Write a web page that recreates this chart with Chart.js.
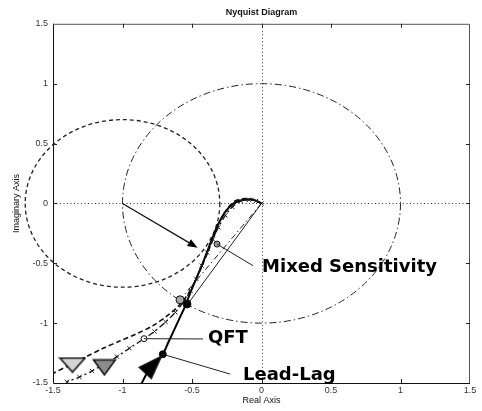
<!DOCTYPE html>
<html>
<head>
<meta charset="utf-8">
<title>Nyquist Diagram</title>
<script src="https://cdn.jsdelivr.net/npm/chart.js@4/dist/chart.umd.min.js"></script>
<style>
  html, body { margin: 0; padding: 0; background: #fff; }
  #wrap { width: 482px; height: 411px; }
</style>
</head>
<body>
<div id="wrap"><canvas id="nyq" width="482" height="411"></canvas></div>
<script>
// Axis ticks (both axes share the same range)
const tickValues = [-1.5, -1, -0.5, 0, 0.5, 1, 1.5];
const tickLabels = ['-1.5', '-1', '-0.5', '0', '0.5', '1', '1.5'];

// Mixed Sensitivity loop (real / imaginary parts)
const mixedRe = [0.0, -0.05, -0.12, -0.19, -0.25, -0.30, -0.34, -0.38, -0.42, -0.47, -0.53, -0.60, -0.68, -0.78, -0.90, -1.02, -1.14, -1.26, -1.38, -1.50];
const mixedIm = [0.0, 0.03, 0.04, 0.02, -0.05, -0.15, -0.27, -0.39, -0.50, -0.63, -0.76, -0.86, -0.94, -1.02, -1.09, -1.15, -1.21, -1.28, -1.35, -1.42];

// QFT loop
const qftRe = [0.0, -0.04, -0.09, -0.15, -0.21, -0.26, -0.31, -0.35, -0.39, -0.43, -0.47, -0.51, -0.56, -0.62, -0.69, -0.77, -0.845, -0.95, -1.04, -1.13, -1.22, -1.31, -1.40];
const qftIm = [0.0, 0.02, 0.03, 0.02, -0.03, -0.10, -0.20, -0.30, -0.41, -0.52, -0.63, -0.73, -0.82, -0.91, -0.99, -1.07, -1.13, -1.21, -1.28, -1.34, -1.40, -1.45, -1.49];
const qftReturnRe = [0.0, -0.59];
const qftReturnIm = [0.0, -0.81];

// Lead-Lag loop
const leadRe = [0.0, -0.06, -0.13, -0.20, -0.26, -0.31, -0.35, -0.39, -0.43, -0.47, -0.51, -0.55, -0.59, -0.63, -0.67, -0.71, -0.76, -0.81, -0.87];
const leadIm = [0.0, 0.03, 0.03, 0.0, -0.07, -0.17, -0.28, -0.40, -0.52, -0.63, -0.74, -0.86, -0.96, -1.06, -1.16, -1.26, -1.33, -1.39, -1.52];
const leadReturnRe = [0.0, -0.53];
const leadReturnIm = [0.0, -0.84];

// Direction triangles: Mixed Sensitivity, QFT, Lead-Lag
const triRe = [-1.36, -1.13, -0.80];
const triIm = [-1.35, -1.37, -1.37];

// Highlighted frequency points
const dotRe = [-0.32, -0.586, -0.536, -0.845, -0.71];
const dotIm = [-0.34, -0.805, -0.84, -1.13, -1.26];

// Reference circles: centre and radius
const circleRe = [-1, 0];
const circleIm = [0, 0];
const circleR = [0.7, 1];

// Arrow from the critical point
const arrowRe = [-1, -0.46];
const arrowIm = [0, -0.37];

// Callout labels, their anchor and the point each one refers to
const calloutText = ['Mixed Sensitivity', 'QFT', 'Lead-Lag'];
const calloutRe = [0.004, -0.385, -0.133];
const calloutIm = [-0.535, -1.13, -1.44];
const leaderEndRe = [-0.061, -0.421, -0.227];
const leaderEndIm = [-0.52, -1.132, -1.425];
const leaderFromRe = [-0.32, -0.845, -0.71];
const leaderFromIm = [-0.34, -1.13, -1.26];

const pts = (re, im) => re.map((x, i) => ({ x, y: im[i] }));

// Triangle glyphs used as point styles
function triangleGlyph(w, h, verts, fill) {
  const c = document.createElement('canvas');
  c.width = w; c.height = h;
  const g = c.getContext('2d');
  g.beginPath();
  g.moveTo(verts[0][0], verts[0][1]);
  g.lineTo(verts[1][0], verts[1][1]);
  g.lineTo(verts[2][0], verts[2][1]);
  g.closePath();
  g.fillStyle = fill;
  g.fill();
  g.lineWidth = 1.5;
  g.strokeStyle = '#111';
  g.stroke();
  return c;
}
const triGlyphs = [
  triangleGlyph(28, 17, [[1.5, 1.5], [26.5, 1.5], [14, 15.5]], '#d4d4d4'),
  triangleGlyph(25, 18, [[1.5, 1.5], [23.5, 1.5], [12.5, 16.5]], '#8c8c8c'),
  triangleGlyph(25, 25, [[23.5, 1.5], [1.5, 12.5], [13.5, 23.5]], '#000')
];

const AXIS_FONT = { family: "'Liberation Sans', Arial, sans-serif", size: 9 };

const backdrop = {
  id: 'backdrop',
  beforeDatasetsDraw(chart) {
    const { ctx, chartArea: a, scales: { x, y } } = chart;
    ctx.save();
    // dotted zero lines
    ctx.strokeStyle = '#333';
    ctx.lineWidth = 1;
    ctx.setLineDash([1, 2.5]);
    const x0 = Math.round(x.getPixelForValue(0)) + 0.5;
    const y0 = Math.round(y.getPixelForValue(0)) + 0.5;
    ctx.beginPath();
    ctx.moveTo(x0, a.top); ctx.lineTo(x0, a.bottom);
    ctx.moveTo(a.left, y0); ctx.lineTo(a.right, y0);
    ctx.stroke();
    // reference circles
    const dashes = [[4, 3], [7, 3, 1.5, 3]];
    const widths = [1.3, 1];
    circleRe.forEach((cx, i) => {
      const px = x.getPixelForValue(cx);
      const py = y.getPixelForValue(circleIm[i]);
      const rx = Math.abs(x.getPixelForValue(cx + circleR[i]) - px);
      const ry = Math.abs(y.getPixelForValue(circleIm[i] + circleR[i]) - py);
      ctx.setLineDash(dashes[i]);
      ctx.lineWidth = widths[i];
      ctx.strokeStyle = '#222';
      ctx.beginPath();
      ctx.ellipse(px, py, rx, ry, 0, 0, Math.PI * 2);
      ctx.stroke();
    });
    ctx.restore();
  },
  afterDatasetsDraw(chart) {
    const { ctx, chartArea: a, scales: { x, y } } = chart;
    ctx.save();
    // frame
    ctx.setLineDash([]);
    ctx.lineWidth = 1;
    ctx.strokeStyle = '#111';
    ctx.beginPath();
    ctx.moveTo(a.left + 0.5, a.top); ctx.lineTo(a.left + 0.5, a.bottom + 0.5);
    ctx.lineTo(a.right, a.bottom + 0.5);
    ctx.stroke();
    ctx.strokeStyle = '#555';
    ctx.beginPath();
    ctx.moveTo(a.left, a.top + 0.5); ctx.lineTo(a.right - 0.5, a.top + 0.5);
    ctx.lineTo(a.right - 0.5, a.bottom);
    ctx.stroke();
    // inward tick marks
    ctx.strokeStyle = '#222';
    ctx.beginPath();
    tickValues.slice(1, -1).forEach(v => {
      const px = Math.round(x.getPixelForValue(v)) + 0.5;
      ctx.moveTo(px, a.bottom); ctx.lineTo(px, a.bottom - 4);
      ctx.moveTo(px, a.top); ctx.lineTo(px, a.top + 4);
      const py = Math.round(y.getPixelForValue(v)) + 0.5;
      ctx.moveTo(a.left, py); ctx.lineTo(a.left + 4, py);
      ctx.moveTo(a.right, py); ctx.lineTo(a.right - 4, py);
    });
    ctx.stroke();
    // arrow from the critical point
    const ax1 = x.getPixelForValue(arrowRe[0]), ay1 = y.getPixelForValue(arrowIm[0]);
    const ax2 = x.getPixelForValue(arrowRe[1]), ay2 = y.getPixelForValue(arrowIm[1]);
    const ang = Math.atan2(ay2 - ay1, ax2 - ax1);
    const hl = 10, hw = 4;
    ctx.strokeStyle = '#111';
    ctx.lineWidth = 1.2;
    ctx.beginPath();
    ctx.moveTo(ax1, ay1);
    ctx.lineTo(ax2 - hl * Math.cos(ang), ay2 - hl * Math.sin(ang));
    ctx.stroke();
    ctx.fillStyle = '#000';
    ctx.beginPath();
    ctx.moveTo(ax2, ay2);
    ctx.lineTo(ax2 - hl * Math.cos(ang) + hw * Math.sin(ang), ay2 - hl * Math.sin(ang) - hw * Math.cos(ang));
    ctx.lineTo(ax2 - hl * Math.cos(ang) - hw * Math.sin(ang), ay2 - hl * Math.sin(ang) + hw * Math.cos(ang));
    ctx.closePath();
    ctx.fill();
    // callout leaders and labels
    ctx.lineWidth = 1;
    ctx.strokeStyle = '#222';
    ctx.beginPath();
    leaderFromRe.forEach((fx, i) => {
      ctx.moveTo(x.getPixelForValue(fx), y.getPixelForValue(leaderFromIm[i]));
      ctx.lineTo(x.getPixelForValue(leaderEndRe[i]), y.getPixelForValue(leaderEndIm[i]));
    });
    ctx.stroke();
    ctx.fillStyle = '#000';
    ctx.font = "bold 18px 'DejaVu Sans', Verdana, sans-serif";
    ctx.textAlign = 'left';
    ctx.textBaseline = 'middle';
    calloutText.forEach((t, i) => {
      ctx.fillText(t, x.getPixelForValue(calloutRe[i]), y.getPixelForValue(calloutIm[i]));
    });
    ctx.restore();
  }
};

new Chart(document.getElementById('nyq'), {
  type: 'scatter',
  data: {
    datasets: [
      {
        label: 'direction',
        data: pts(triRe, triIm),
        pointStyle: triGlyphs,
        pointRadius: 10,
        showLine: false,
        clip: false
      },
      {
        label: 'points',
        data: pts(dotRe, dotIm),
        pointStyle: 'circle',
        pointRadius: [3, 4, 4, 3, 3.5],
        pointBackgroundColor: ['#9a9a9a', '#a8a8a8', '#000', '#fff', '#000'],
        pointBorderColor: '#111',
        pointBorderWidth: 1,
        showLine: false,
        clip: false
      },
      {
        label: 'Mixed Sensitivity',
        data: pts(mixedRe, mixedIm),
        showLine: true,
        borderColor: '#111',
        borderWidth: 1.6,
        borderDash: [5, 3],
        pointRadius: 0,
        tension: 0.3
      },
      {
        label: 'QFT',
        data: pts(qftRe, qftIm),
        showLine: true,
        borderColor: '#111',
        borderWidth: 1.3,
        borderDash: [6, 3, 2, 3],
        pointStyle: 'crossRot',
        pointRadius: 3,
        pointBorderColor: '#222',
        pointBorderWidth: 1,
        tension: 0.3
      },
      {
        label: 'QFT return',
        data: pts(qftReturnRe, qftReturnIm),
        showLine: true,
        borderColor: '#222',
        borderWidth: 1,
        borderDash: [6, 3, 1.5, 3],
        pointRadius: 0
      },
      {
        label: 'Lead-Lag',
        data: pts(leadRe, leadIm),
        showLine: true,
        borderColor: '#000',
        borderWidth: 2,
        pointRadius: 0,
        tension: 0.3
      },
      {
        label: 'Lead-Lag return',
        data: pts(leadReturnRe, leadReturnIm),
        showLine: true,
        borderColor: '#222',
        borderWidth: 1,
        pointRadius: 0
      }
    ]
  },
  options: {
    responsive: false,
    animation: false,
    devicePixelRatio: 1,
    layout: { padding: { left: 0, right: 12, top: 0, bottom: 0 } },
    plugins: {
      legend: { display: false },
      tooltip: { enabled: false },
      title: {
        display: true,
        text: 'Nyquist Diagram',
        fullSize: false,
        color: '#111',
        font: AXIS_FONT,
        padding: { top: 7, bottom: 6 }
      }
    },
    scales: {
      x: {
        type: 'linear',
        min: -1.5, max: 1.5,
        afterBuildTicks: s => { s.ticks = tickValues.map(v => ({ value: v })); },
        afterFit: s => { s.height = 28; },
        grid: { display: false, drawTicks: false, tickLength: 0 },
        border: { display: false },
        ticks: {
          autoSkip: false, maxRotation: 0, padding: 2,
          color: '#333', font: AXIS_FONT,
          callback: v => tickLabels[tickValues.indexOf(v)]
        },
        title: { display: true, text: 'Real Axis', color: '#111', font: AXIS_FONT, padding: { top: 0, bottom: 5 } }
      },
      y: {
        type: 'linear',
        min: -1.5, max: 1.5,
        afterBuildTicks: s => { s.ticks = tickValues.map(v => ({ value: v })); },
        afterFit: s => { s.width = 53; },
        grid: { display: false, drawTicks: false, tickLength: 0 },
        border: { display: false },
        ticks: {
          autoSkip: false, padding: 5,
          color: '#333', font: AXIS_FONT,
          callback: v => tickLabels[tickValues.indexOf(v)]
        },
        title: { display: true, text: 'Imaginary Axis', color: '#111', font: AXIS_FONT, padding: { top: 11, bottom: 0 } }
      }
    }
  },
  plugins: [backdrop]
});
</script>
</body>
</html>
